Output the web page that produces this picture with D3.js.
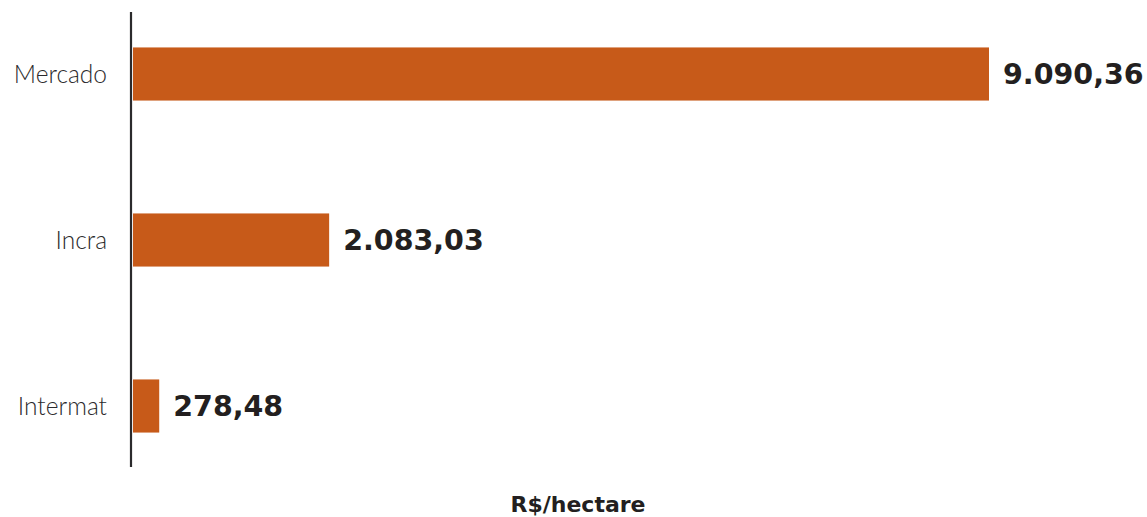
<!DOCTYPE html>
<html><head><meta charset="utf-8">
<script src="https://cdn.jsdelivr.net/npm/d3@7"></script>
<style>body{margin:0;background:#fff}svg{display:block}</style>
</head><body>
<svg id="c" width="1147" height="517"></svg>
<script>
const categories = ["Mercado", "Incra", "Intermat"];
const values = [9090.36, 2083.03, 278.48];
const valueLabels = ["9.090,36", "2.083,03", "278,48"];
const axisTitle = "R$/hectare";

const svg = d3.select("#c");
const x = d3.scaleLinear().domain([0, d3.max(values)]).range([133, 989]);
const y = d3.scaleBand().domain(categories).range([-9, 489]).paddingInner(0.68).paddingOuter(0.34);

svg.selectAll("rect.bar").data(categories).join("rect")
  .attr("class", "bar")
  .attr("x", x(0))
  .attr("y", d => y(d))
  .attr("width", (d, i) => x(values[i]) - x(0))
  .attr("height", y.bandwidth())
  .attr("fill", "#c75a19");

svg.append("line").attr("x1", 131).attr("x2", 131).attr("y1", 12).attr("y2", 467)
  .attr("stroke", "#2b2a2c").attr("stroke-width", 2.2);

svg.selectAll("text.cat").data(categories).join("text")
  .attr("class", "cat")
  .attr("x", 107)
  .attr("y", d => y(d) + y.bandwidth() / 2)
  .attr("dy", "0.35em")
  .attr("text-anchor", "end")
  .attr("font-family", "Lato")
  .attr("font-weight", 300)
  .attr("font-size", 24.5)
  .attr("fill", "#2b2a2c")
  .text(d => d);

svg.selectAll("text.val").data(categories).join("text")
  .attr("class", "val")
  .attr("x", (d, i) => x(values[i]) + 14)
  .attr("y", d => y(d) + y.bandwidth() / 2)
  .attr("dy", "0.36em")
  .attr("font-family", "DejaVu Sans")
  .attr("font-weight", 700)
  .attr("font-size", 28.5)
  .attr("fill", "#231f20")
  .text((d, i) => valueLabels[i]);

svg.append("text")
  .attr("x", 578).attr("y", 512)
  .attr("text-anchor", "middle")
  .attr("font-family", "DejaVu Sans")
  .attr("font-weight", 700)
  .attr("font-size", 22)
  .attr("fill", "#231f20")
  .text(axisTitle);
</script>
</body></html>
